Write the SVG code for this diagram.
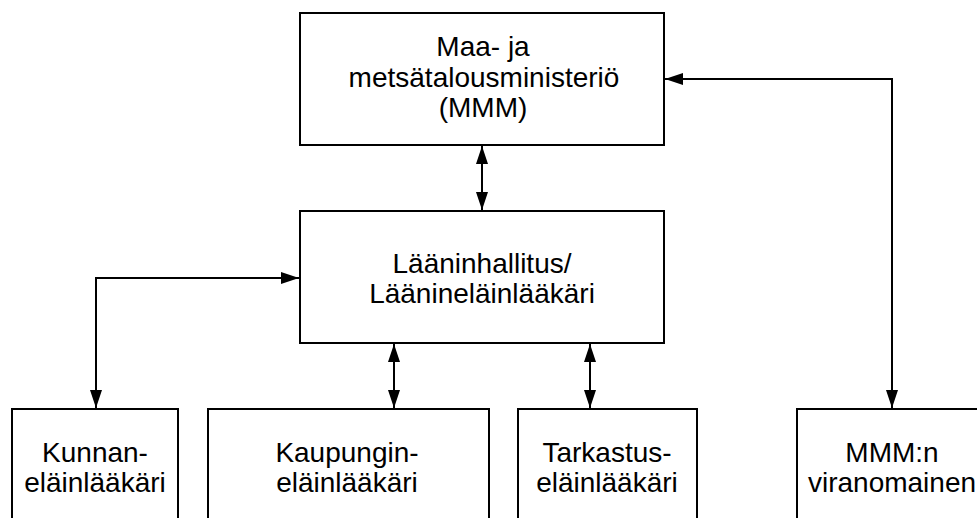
<svg xmlns="http://www.w3.org/2000/svg" width="977" height="518" viewBox="0 0 977 518">
<style>
.box{fill:#fff;stroke:#000;stroke-width:2}
.lbl{font-family:"Liberation Sans",Arial,sans-serif;font-size:28px;fill:#000;text-anchor:middle}
.con{fill:none;stroke:#000;stroke-width:2}
</style>
<defs>
<marker id="ah" markerUnits="userSpaceOnUse" markerWidth="18" markerHeight="12" refX="18" refY="6" orient="auto-start-reverse" viewBox="0 0 18 12">
<path d="M0,0 L18,6 L0,12 z" fill="#000"/>
</marker>
</defs>
<rect width="977" height="518" fill="#fff"/>
<g id="connectors">
<line class="con" x1="482" y1="146" x2="482" y2="210" marker-start="url(#ah)" marker-end="url(#ah)"/>
<path class="con" d="M299,278 H96 V408" marker-start="url(#ah)" marker-end="url(#ah)"/>
<line class="con" x1="394" y1="344" x2="394" y2="408" marker-start="url(#ah)" marker-end="url(#ah)"/>
<line class="con" x1="590" y1="344" x2="590" y2="408" marker-start="url(#ah)" marker-end="url(#ah)"/>
<path class="con" d="M665,79 H892 V408" marker-start="url(#ah)" marker-end="url(#ah)"/>
</g>
<g id="mmm">
<rect class="box" x="300" y="13" width="364" height="132"/>
<text class="lbl" x="483" y="56">Maa- ja</text>
<text class="lbl" x="484" y="86.5">metsätalousministeriö</text>
<text class="lbl" x="483" y="117">(MMM)</text>
</g>
<g id="laaninhallitus">
<rect class="box" x="300" y="211" width="364" height="132"/>
<text class="lbl" x="482" y="273">Lääninhallitus/</text>
<text class="lbl" x="482" y="303">Läänineläinlääkäri</text>
</g>
<g id="kunnan">
<rect class="box" x="12" y="409" width="166" height="130"/>
<text class="lbl" x="95" y="462">Kunnan-</text>
<text class="lbl" x="95" y="492">eläinlääkäri</text>
</g>
<g id="kaupungin">
<rect class="box" x="208" y="409" width="281" height="130"/>
<text class="lbl" x="347" y="462">Kaupungin-</text>
<text class="lbl" x="347" y="492">eläinlääkäri</text>
</g>
<g id="tarkastus">
<rect class="box" x="518" y="409" width="179" height="130"/>
<text class="lbl" x="607" y="462">Tarkastus-</text>
<text class="lbl" x="607" y="492">eläinlääkäri</text>
</g>
<g id="viranomainen">
<rect class="box" x="797" y="409" width="192" height="130"/>
<text class="lbl" x="892" y="462">MMM:n</text>
<text class="lbl" x="892" y="492">viranomainen</text>
</g>
</svg>
